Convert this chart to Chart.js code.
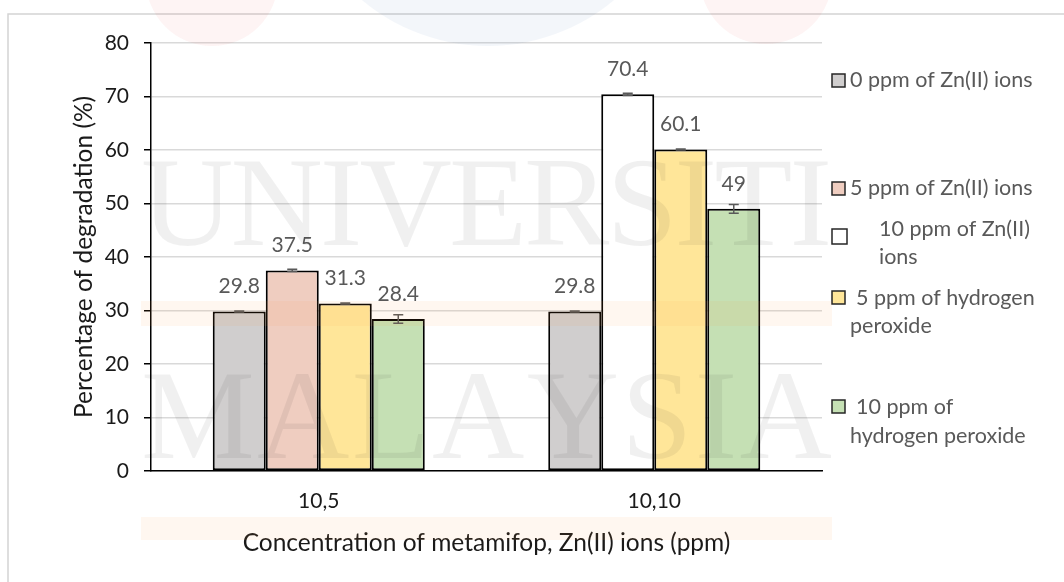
<!DOCTYPE html>
<html>
<head>
<meta charset="utf-8">
<script src="https://cdn.jsdelivr.net/npm/chart.js@4.4.1/dist/chart.umd.min.js"></script>
<style>
  html, body { margin: 0; padding: 0; background: #fff; }
  #wrap { position: relative; width: 1064px; height: 582px; }
</style>
</head>
<body>
<div id="wrap"><canvas id="c" width="1064" height="582"></canvas></div>
<script>
// Categories: metamifop, Zn(II) concentration pairs (ppm)
const categories = ['10,5', '10,10'];

// Treatment series (percentage of degradation); null = treatment not applied
const seriesLabels = [
  '0 ppm of Zn(II) ions',
  '5 ppm of Zn(II) ions',
  '10 ppm of Zn(II) ions',
  '5 ppm of hydrogen peroxide',
  '10 ppm of hydrogen peroxide'
];
const zn0     = [29.8, 29.8];
const zn5     = [37.5, null];
const zn10    = [null, 70.4];
const h2o2_5  = [31.3, 60.1];
const h2o2_10 = [28.4, 49];

// Standard deviations for the error bars
const zn0Err     = [0.1, 0.1];
const zn5Err     = [0.2, null];
const zn10Err    = [null, 0.2];
const h2o2_5Err  = [0.1, 0.1];
const h2o2_10Err = [0.8, 0.8];

// Y-axis tick values
const yTicks = [0, 10, 20, 30, 40, 50, 60, 70, 80];

// Legend wording as it wraps in the legend column
const legendLines = [
  ['0 ppm of Zn(II) ions'],
  ['5 ppm of Zn(II) ions'],
  ['10 ppm of Zn(II)', 'ions'],
  ['5 ppm of hydrogen', 'peroxide'],
  ['10 ppm of', 'hydrogen peroxide']
];

const fills = ['#d0cece', '#efcdc0', '#ffffff', '#ffe699', '#c5e0b4'];
const seriesValues = [zn0, zn5, zn10, h2o2_5, h2o2_10];
const seriesErrors = [zn0Err, zn5Err, zn10Err, h2o2_5Err, h2o2_10Err];

const FONT = 'Lato';
const fs = 21;       // tick and value labels
const titleFs = 24.5; // axis titles

// Page frame and background
const framePlugin = {
  id: 'frame',
  beforeDraw(chart) {
    const ctx = chart.ctx;
    ctx.save();
    ctx.fillStyle = '#fff';
    ctx.fillRect(0, 0, chart.width, chart.height);
    ctx.strokeStyle = '#d4d4d4';
    ctx.lineWidth = 1.5;
    ctx.strokeRect(8, 14, 1200, 800);
    ctx.restore();
  }
};

// Error bars and value labels on each bar
const barExtras = {
  id: 'barExtras',
  afterDatasetsDraw(chart) {
    const ctx = chart.ctx;
    const y = chart.scales.y;
    ctx.save();
    chart.data.datasets.forEach((ds, di) => {
      const meta = chart.getDatasetMeta(di);
      meta.data.forEach((bar, i) => {
        const v = ds.data[i];
        if (v === null || v === undefined) return;
        const e = seriesErrors[di][i] || 0;
        const yHi = y.getPixelForValue(v + e);
        const yLo = y.getPixelForValue(v - e);
        ctx.strokeStyle = '#595959';
        ctx.lineWidth = 1.5;
        ctx.beginPath();
        ctx.moveTo(bar.x, yHi); ctx.lineTo(bar.x, yLo);
        ctx.moveTo(bar.x - 5, yHi); ctx.lineTo(bar.x + 5, yHi);
        ctx.moveTo(bar.x - 5, yLo); ctx.lineTo(bar.x + 5, yLo);
        ctx.stroke();
        ctx.fillStyle = '#595959';
        ctx.font = fs + 'px ' + FONT;
        ctx.textAlign = 'center';
        ctx.textBaseline = 'middle';
        ctx.fillText(String(v), bar.x, bar.y - 25);
      });
    });
    ctx.restore();
  }
};

// Legend column on the right
const legendPlugin = {
  id: 'sideLegend',
  afterDraw(chart) {
    const ctx = chart.ctx;
    const layout = [
      { box: [832, 74, 13], text: [[850, 80]] },
      { box: [832, 182, 13], text: [[850, 188]] },
      { box: [832, 229, 15], text: [[879, 229], [879, 257]] },
      { box: [832, 291, 13], text: [[856, 298], [850, 326]] },
      { box: [832, 400, 13], text: [[856, 407], [850, 436]] }
    ];
    ctx.save();
    ctx.font = '21.5px ' + FONT;
    ctx.textAlign = 'left';
    ctx.textBaseline = 'middle';
    layout.forEach((it, k) => {
      const [bx, by, bs] = it.box;
      ctx.fillStyle = fills[k];
      ctx.fillRect(bx, by, bs, bs);
      ctx.strokeStyle = '#262626';
      ctx.lineWidth = 1.5;
      ctx.strokeRect(bx, by, bs, bs);
      ctx.fillStyle = '#595959';
      legendLines[k].forEach((ln, j) => {
        ctx.fillText(ln, it.text[j][0], it.text[j][1]);
      });
    });
    ctx.restore();
  }
};

// Faint institutional watermark laid over the page
const watermark = {
  id: 'watermark',
  afterDraw(chart) {
    const ctx = chart.ctx;
    ctx.save();
    ctx.fillStyle = 'rgba(230,70,70,0.06)';
    ctx.beginPath(); ctx.arc(212, -20, 66, 0, Math.PI * 2); ctx.fill();
    ctx.beginPath(); ctx.arc(766, -22, 66, 0, Math.PI * 2); ctx.fill();
    ctx.fillStyle = 'rgba(40,100,170,0.055)';
    ctx.beginPath(); ctx.arc(488, -150, 196, 0, Math.PI * 2); ctx.fill();

    ctx.fillStyle = 'rgba(255,150,60,0.08)';
    ctx.fillRect(141, 301, 691, 25);
    ctx.fillRect(141, 517, 691, 23);

    ctx.fillStyle = 'rgba(0,0,0,0.06)';
    ctx.font = '128px "Liberation Serif"';
    ctx.textBaseline = 'alphabetic';
    ctx.textAlign = 'left';
    const spread = (word, baseline) => {
      const letters = word.split('');
      const widths = letters.map(c => ctx.measureText(c).width);
      const total = widths.reduce((a, b) => a + b, 0);
      const gap = (691 - total) / (letters.length - 1);
      let x = 141;
      letters.forEach((c, i) => { ctx.fillText(c, x, baseline); x += widths[i] + gap; });
    };
    spread('UNIVERSITI', 245);
    spread('MALAYSIA', 458);
    ctx.restore();
  }
};

new Chart(document.getElementById('c'), {
  type: 'bar',
  data: {
    labels: categories,
    datasets: seriesValues.map((vals, k) => ({
      label: seriesLabels[k],
      data: vals,
      backgroundColor: fills[k],
      borderColor: '#000',
      borderWidth: 2,
      borderSkipped: false,
      skipNull: true,
      categoryPercentage: 0.632,
      barPercentage: 1
    }))
  },
  options: {
    responsive: false,
    animation: false,
    devicePixelRatio: 1,
    layout: { autoPadding: false, padding: { left: 0, right: 242, top: 43, bottom: 0 } },
    plugins: { legend: { display: false }, tooltip: { enabled: false } },
    scales: {
      x: {
        grid: { display: false, drawTicks: false },
        border: { display: true, color: '#000', width: 1.5 },
        ticks: { padding: 18, color: '#1a1a1a', font: { family: FONT, size: fs } },
        title: {
          display: true,
          text: 'Concentration of metamifop, Zn(II) ions (ppm)',
          color: '#1a1a1a',
          font: { family: FONT, size: titleFs },
          padding: { top: 0, bottom: 24 }
        },
        afterFit(s) { s.height = 111; }
      },
      y: {
        min: 0,
        max: 80,
        afterBuildTicks(s) { s.ticks = yTicks.map(v => ({ value: v })); },
        grid: { color: '#d9d9d9', lineWidth: 1.5, tickColor: '#000', tickLength: 7, tickWidth: 1.5 },
        border: { color: '#000', width: 1.5 },
        ticks: { padding: 15, color: '#1a1a1a', font: { family: FONT, size: fs } },
        title: {
          display: true,
          text: 'Percentage of degradation (%)',
          color: '#1a1a1a',
          font: { family: FONT, size: titleFs },
          padding: { top: 69, bottom: 0 }
        },
        afterFit(s) { s.width = 151; }
      }
    }
  },
  plugins: [framePlugin, barExtras, legendPlugin, watermark]
});
</script>
</body>
</html>
